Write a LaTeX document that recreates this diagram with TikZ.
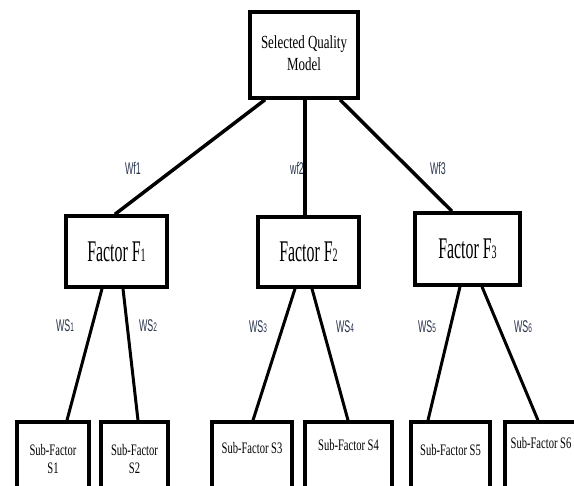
\documentclass[tikz,border=0pt]{standalone}
\usepackage{fontspec}
\setmainfont{Liberation Serif}
\setsansfont{Liberation Sans}
\usepackage{graphicx}
\definecolor{lblcol}{RGB}{40,52,78}
\newcommand{\mylbl}[2]{\scalebox{0.52}[1]{\fontsize{17}{17}\selectfont\sffamily #1{\fontsize{12.5}{12.5}\selectfont #2}}}
\newcommand{\myfac}[1]{\scalebox{0.53}[1]{\fontsize{30}{30}\selectfont Factor F{\fontsize{19}{19}\selectfont #1}}}
\newcommand{\mysub}[1]{\scalebox{0.66}[1]{\fontsize{16}{17.5}\selectfont #1}}
\tikzset{
  boxstyle/.style={draw, line width=3.5pt, rectangle, inner sep=0pt, fill=white},
  conn/.style={line width=3.5pt},
  sconn/.style={line width=3pt},
  lblstyle/.style={inner sep=0pt, text=lblcol},
  txtstyle/.style={inner sep=0pt, align=center}
}
\begin{document}
\begin{tikzpicture}[x=1pt,y=-1pt]
\useasboundingbox (0,0) rectangle (574,486);
\clip (0,0) rectangle (574,486);
% top
\node[boxstyle, minimum width=108pt, minimum height=86pt, align=center] (top) at (304,55)
  {\scalebox{0.7}[1]{\fontsize{18.5}{23}\selectfont\begin{tabular}{@{}c@{}}Selected Quality\\[-1pt] Model\end{tabular}}};
% factors
\node[boxstyle, minimum width=101pt, minimum height=71pt] (f1) at (116.5,251.5) {\myfac{1}};
\node[boxstyle, minimum width=101pt, minimum height=70pt] (f2) at (308.5,252) {\myfac{2}};
\node[boxstyle, minimum width=105pt, minimum height=72pt] (f3) at (467.5,249) {\myfac{3}};
% sub-factor boxes
\node[boxstyle, minimum width=72pt, minimum height=88pt] (s1) at (53,466) {};
\node[boxstyle, minimum width=67pt, minimum height=88pt] (s2) at (134.5,466) {};
\node[boxstyle, minimum width=80pt, minimum height=88pt] (s3) at (252,466) {};
\node[boxstyle, minimum width=87pt, minimum height=88pt] (s4) at (348.5,466) {};
\node[boxstyle, minimum width=79pt, minimum height=88pt] (s5) at (450.5,466) {};
\node[boxstyle, minimum width=85pt, minimum height=88pt] (s6) at (547.5,466) {};
% sub-factor texts
\node[txtstyle] (t1) at (53,461) {\mysub{\begin{tabular}{@{}c@{}}Sub-Factor\\ S1\end{tabular}}};
\node[txtstyle] (t2) at (134.5,461) {\mysub{\begin{tabular}{@{}c@{}}Sub-Factor\\ S2\end{tabular}}};
\node[txtstyle] (t3) at (252,448) {\mysub{Sub-Factor S3}};
\node[txtstyle] (t4) at (348.5,445) {\mysub{Sub-Factor S4}};
\node[txtstyle] (t5) at (450.5,450) {\mysub{Sub-Factor S5}};
\node[txtstyle] (t6) at (541,443) {\mysub{Sub-Factor S6}};
% connectors top -> factors
\draw[conn] ([xshift=-39pt]top.south) -- ([xshift=-1.5pt]f1.north);
\draw[conn] ([xshift=1pt]top.south) -- ([xshift=-3.5pt]f2.north);
\draw[conn] ([xshift=36pt]top.south) -- ([xshift=-15.5pt]f3.north);
% connectors factors -> subs
\draw[sconn] ([xshift=-14.5pt]f1.south) -- ([xshift=14pt]s1.north);
\draw[sconn] ([xshift=6.5pt]f1.south) -- ([xshift=3.5pt]s2.north);
\draw[sconn] ([xshift=-13.5pt]f2.south) -- ([xshift=1pt]s3.north);
\draw[sconn] ([xshift=3.5pt]f2.south) -- ([xshift=-0.5pt]s4.north);
\draw[sconn] ([xshift=-7.5pt]f3.south) -- ([xshift=-22.5pt]s5.north);
\draw[sconn] ([xshift=14.5pt]f3.south) -- ([xshift=-9.5pt]s6.north);
% labels
\node[lblstyle] (wf1) at (133,168) {\mylbl{Wf1}{}};
\node[lblstyle] (wf2) at (297,168) {\mylbl{wf2}{}};
\node[lblstyle] (wf3) at (438,168) {\mylbl{Wf3}{}};
\node[lblstyle] (ws1) at (65,326) {\mylbl{WS}{1}};
\node[lblstyle] (ws2) at (148,326) {\mylbl{WS}{2}};
\node[lblstyle] (ws3) at (258,327) {\mylbl{WS}{3}};
\node[lblstyle] (ws4) at (345,327) {\mylbl{WS}{4}};
\node[lblstyle] (ws5) at (427,327) {\mylbl{WS}{5}};
\node[lblstyle] (ws6) at (523,327) {\mylbl{WS}{6}};
\end{tikzpicture}
\end{document}
